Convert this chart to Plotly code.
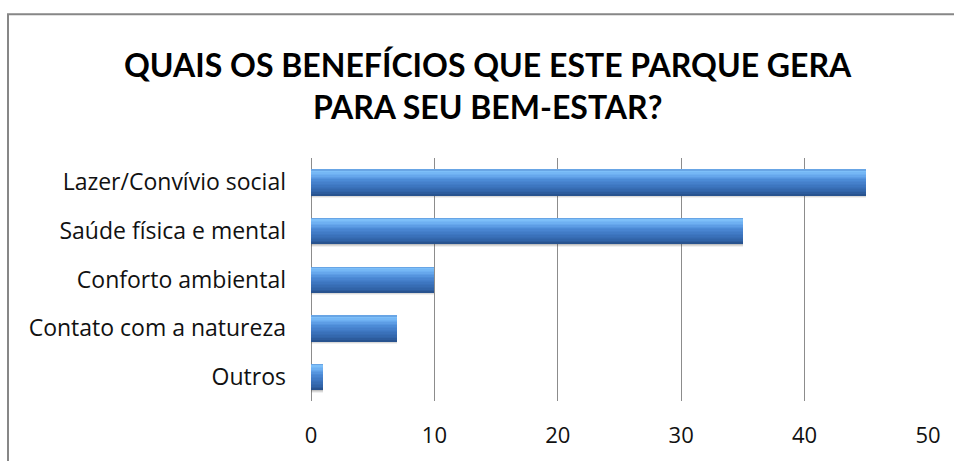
import plotly.graph_objects as go

# Survey answers: benefits the park brings to well-being
categories = [
    "Lazer/Convívio social",
    "Saúde física e mental",
    "Conforto ambiental",
    "Contato com a natureza",
    "Outros",
]
values = [45, 35, 10, 7, 1]
x_ticks = [0, 10, 20, 30, 40, 50]
title_text = "QUAIS OS BENEFÍCIOS QUE ESTE PARQUE GERA<br>PARA SEU BEM-ESTAR?"

# Pixel geometry of the plotting area
W, H = 954, 461
L, R, T, B = 311, 26, 158, 58
plot_w = W - L - R
plot_h = H - T - B

BAR_W = 0.53  # bar thickness in category units
half = BAR_W / 2

# Colour stops across the bar thickness (top -> bottom) for a glossy tube look
stops = [
    (0.00, (84, 140, 210)),
    (0.06, (128, 194, 250)),
    (0.22, (106, 172, 240)),
    (0.42, (76, 138, 214)),
    (0.66, (60, 116, 190)),
    (0.88, (48, 98, 166)),
    (1.00, (38, 78, 136)),
]

def shade(f):
    for (a, ca), (b, cb) in zip(stops, stops[1:]):
        if a <= f <= b:
            t = (f - a) / (b - a)
            c = [round(ca[i] + (cb[i] - ca[i]) * t) for i in range(3)]
            return f"rgb({c[0]},{c[1]},{c[2]})"
    return "rgb(38,78,136)"

N_BANDS = 18

fig = go.Figure()

# soft drop shadow beneath each bar
for dy, alpha in [(0.06, 0.08), (0.04, 0.12), (0.02, 0.16)]:
    fig.add_trace(go.Bar(
        x=values, y=categories, orientation="h",
        width=BAR_W, offset=-half + dy,
        marker=dict(color=f"rgba(60,60,60,{alpha})", line=dict(width=0)),
        hoverinfo="skip", showlegend=False,
    ))

for k in range(N_BANDS):
    f0 = k / N_BANDS
    f1 = (k + 1) / N_BANDS
    fig.add_trace(go.Bar(
        x=values, y=categories, orientation="h",
        width=BAR_W * (f1 - f0) + 0.012, offset=-half + BAR_W * f0,
        marker=dict(color=shade((f0 + f1) / 2), line=dict(width=0)),
        hoverinfo="skip", showlegend=False,
    ))

def px_x(p):
    return (p - L) / plot_w

def px_y(p):
    return (H - B - p) / plot_h

fig.update_layout(
    width=W, height=H,
    margin=dict(l=L, r=R, t=T, b=B, pad=0),
    paper_bgcolor="white", plot_bgcolor="white",
    barmode="overlay", bargap=0,
    font=dict(family="Open Sans, sans-serif", color="#111111", size=23),
    xaxis=dict(
        range=[0, 50], tickvals=x_ticks, ticks="", showline=False,
        showgrid=True, gridcolor="#8c8c8c", gridwidth=1,
        zeroline=True, zerolinecolor="#8c8c8c", zerolinewidth=1,
        tickfont=dict(size=22), ticklabelstandoff=19,
    ),
    yaxis=dict(
        autorange=False, range=[4.5, -0.5], type="category",
        categoryorder="array", categoryarray=categories,
        ticks="", showgrid=False, showline=False,
        tickfont=dict(size=23), ticklabelstandoff=24,
    ),
    annotations=[dict(
        text=title_text, xref="paper", yref="paper",
        x=px_x(488), y=px_y(85), xanchor="center", yanchor="middle",
        showarrow=False, align="center",
        font=dict(family="Lato, sans-serif", size=32, color="#000000", weight=700),
    )],
    shapes=[dict(
        type="rect", xref="paper", yref="paper",
        x0=px_x(8), x1=px_x(970), y0=px_y(480), y1=px_y(13),
        line=dict(color="#878787", width=2), fillcolor="rgba(0,0,0,0)", layer="above",
    )],
)

fig.write_html("out.html")
